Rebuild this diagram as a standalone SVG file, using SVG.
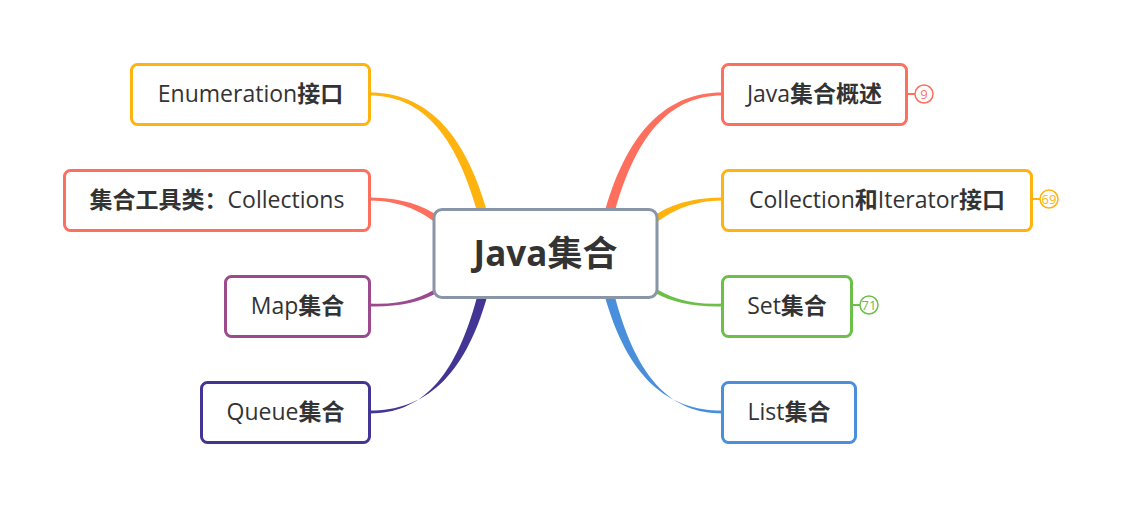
<svg xmlns="http://www.w3.org/2000/svg" width="1122" height="506" viewBox="0 0 1122 506">
<style>
.n{fill:#fff;stroke-width:3}
.t{font-family:"Open Sans","Noto Sans CJK SC",sans-serif;font-size:23px;fill:#333;text-anchor:middle;dominant-baseline:central}
.c{font-weight:bold}
.b{font-family:"Open Sans",sans-serif;font-size:13px;text-anchor:middle;dominant-baseline:central}
</style>
<rect width="1122" height="506" fill="#fff"/>
<g id="connectors">
<path d="M605 211 C628 130 668 92.6 722 92.6 L722 95.4 C672 95.4 637 132 615 211 Z" fill="#ff6f5e"/>
<path d="M652 217 C670 205 690 198 722 197.6 L722 200.4 C693 201 675 209 657 222 Z" fill="#ffb30f"/>
<path d="M652 286 C670 298 690 305 722 303.6 L722 306.4 C693 307 672 302 655 293 Z" fill="#6cc04a"/>
<path d="M605 297 C628 378 668 410.6 722 410.6 L722 413.4 C672 413.4 637 380 615 297 Z" fill="#4a8fdc"/>
<path d="M487 211 C464 130 424 92.6 370 92.6 L370 95.4 C420 95.4 455 132 477 211 Z" fill="#ffb30f"/>
<path d="M440 217 C422 205 402 198 370 197.6 L370 200.4 C399 201 417 209 435 222 Z" fill="#ff6f5e"/>
<path d="M440 286 C422 298 402 305 370 303.6 L370 306.4 C399 307 420 302 437 293 Z" fill="#9b4a8e"/>
<path d="M487 297 C464 378 424 410.6 370 410.6 L370 413.4 C420 413.4 455 380 477 297 Z" fill="#433594"/>
<line x1="907" y1="94" x2="915" y2="94" stroke="#ff6f5e" stroke-width="2"/>
<line x1="1032" y1="199" x2="1040" y2="199" stroke="#ffb30f" stroke-width="2"/>
<line x1="852" y1="305" x2="860" y2="305" stroke="#6cc04a" stroke-width="2"/>
</g>
<g id="center">
<rect x="434" y="209.5" width="223" height="88" rx="8" fill="#fff" stroke="#8a96a8" stroke-width="3"/>
<text x="545.5" y="252.5" style="font-family:'Open Sans','Noto Sans CJK SC',sans-serif;font-size:35px;font-weight:bold;fill:#333;text-anchor:middle;dominant-baseline:central">Java集合</text>
</g>
<g id="n1">
<rect class="n" x="722.5" y="64.5" width="184" height="60" rx="6" stroke="#ff6f5e"/>
<text class="t" x="814.5" y="92.5">Java<tspan class="c">集合概述</tspan></text>
<circle cx="924" cy="94" r="9" fill="#fff" stroke="#ff6f5e" stroke-width="1.5"/>
<text class="b" x="924" y="94" fill="#ff6f5e">9</text>
</g>
<g id="n2">
<rect class="n" x="722.5" y="170.5" width="309" height="60" rx="6" stroke="#ffb30f"/>
<text class="t" x="877" y="198.5">Collection<tspan class="c">和</tspan>Iterator<tspan class="c">接口</tspan></text>
<circle cx="1049" cy="199" r="9" fill="#fff" stroke="#ffb30f" stroke-width="1.5"/>
<text class="b" x="1049" y="199" fill="#ffb30f">69</text>
</g>
<g id="n3">
<rect class="n" x="722.5" y="276.5" width="129" height="60" rx="6" stroke="#6cc04a"/>
<text class="t" x="787" y="304.5">Set<tspan class="c">集合</tspan></text>
<circle cx="869" cy="305" r="9" fill="#fff" stroke="#6cc04a" stroke-width="1.5"/>
<text class="b" x="869" y="305" fill="#6cc04a">71</text>
</g>
<g id="n4">
<rect class="n" x="722.5" y="382.5" width="133" height="60" rx="6" stroke="#4a8fdc"/>
<text class="t" x="789" y="410.5">List<tspan class="c">集合</tspan></text>
</g>
<g id="n5">
<rect class="n" x="131.5" y="64.5" width="238" height="60" rx="6" stroke="#ffb30f"/>
<text class="t" x="250.5" y="92.5">Enumeration<tspan class="c">接口</tspan></text>
</g>
<g id="n6">
<rect class="n" x="64.5" y="170.5" width="305" height="60" rx="6" stroke="#ff6f5e"/>
<text class="t" x="217" y="198.5"><tspan class="c">集合工具类：</tspan>Collections</text>
</g>
<g id="n7">
<rect class="n" x="225.5" y="276.5" width="144" height="60" rx="6" stroke="#9b4a8e"/>
<text class="t" x="297.5" y="304.5">Map<tspan class="c">集合</tspan></text>
</g>
<g id="n8">
<rect class="n" x="201.5" y="382.5" width="168" height="60" rx="6" stroke="#433594"/>
<text class="t" x="285.5" y="410.5">Queue<tspan class="c">集合</tspan></text>
</g>
</svg>
